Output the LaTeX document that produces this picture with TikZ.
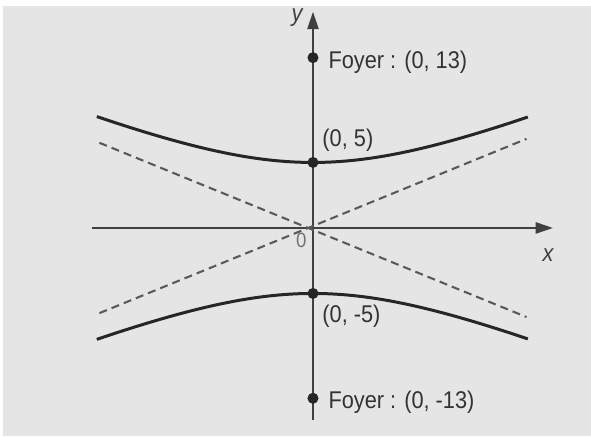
\documentclass[tikz,border=0pt]{standalone}
\usepackage{fontspec}
\setmainfont{Liberation Sans}[FakeStretch=0.9]
\usetikzlibrary{arrows.meta, positioning}

\begin{document}
\begin{tikzpicture}[x=0.2cm, y=0.2cm,
  axis/.style={-{Triangle[length=7.5pt, width=4.8pt]}, line width=0.95pt, black!75},
  branch/.style={line width=1.3pt, black!85},
  asym/.style={dash pattern=on 3.5pt off 2.2pt, line width=0.9pt, black!65},
  dot/.style={circle, fill=black!85, inner sep=0pt, minimum size=4.8pt},
  lbl/.style={font=\fontsize{10.5}{12}\selectfont, text=black!80, anchor=west, inner sep=0pt},
  axlbl/.style={font=\itshape\fontsize{10.5}{12}\selectfont, text=black!75, inner sep=0pt}
]
  \useasboundingbox (-23.89,-15.88) rectangle (21.22,17.40);
  \fill[gray!20] (-23.66,-15.88) rectangle (21.22,16.95);

  % axes
  \coordinate (xmin) at (-16.87,0);
  \coordinate (xmax) at (18.32,0);
  \coordinate (ymin) at (0,-14.66);
  \coordinate (ymax) at (0,16.5);
  \draw[axis] (xmin) -- (xmax);
  \draw[axis] (ymin) -- (ymax);

  % asymptotes
  \coordinate (A1) at (-16.3,6.5);
  \coordinate (A2) at (16.3,-6.8);
  \coordinate (B1) at (-16.3,-6.5);
  \coordinate (B2) at (16.3,6.8);
  \draw[asym] (A1) -- (A2);
  \draw[asym] (B1) -- (B2);

  % branches
  \draw[branch] plot[domain=-16.5:16.4, samples=60, smooth] (\x, {5*sqrt(1+\x*\x/144)});
  \draw[branch] plot[domain=-16.5:16.4, samples=60, smooth] (\x, {-5*sqrt(1+\x*\x/144)});

  \node[dot] (F1) at (0,13) {};
  \node[dot] (V1) at (0,5) {};
  \node[dot] (V2) at (0,-5) {};
  \node[dot] (F2) at (0,-13) {};

  \node[lbl] (LF1) at (1.15,12.67) {Foyer : (0, 13)};
  \node[lbl] (LV1) at (0.69,6.72) {(0, 5)};
  \node[lbl] (LV2) at (0.69,-6.72) {(0, -5)};
  \node[lbl] (LF2) at (1.15,-13.28) {Foyer : (0, -13)};

  \node[axlbl] (ly) at (-1.22,16.03) {y};
  \node[axlbl] (lx) at (17.94,-2.06) {x};
  \node[font=\fontsize{9}{10}\selectfont, text=black!55, inner sep=0pt] (lo) at (-0.9,-0.95) {0};
\end{tikzpicture}
\end{document}
